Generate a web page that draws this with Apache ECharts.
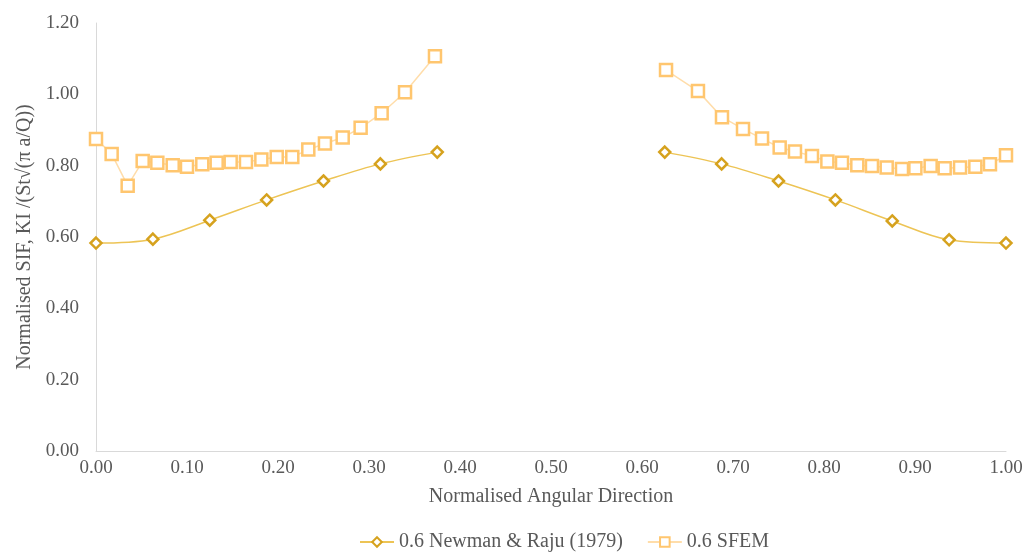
<!DOCTYPE html>
<html>
<head>
<meta charset="utf-8">
<script src="https://cdn.jsdelivr.net/npm/echarts@6/dist/echarts.min.js"></script>
<style>html,body{margin:0;padding:0;background:#fff;}#c{width:1026px;height:553px;}</style>
</head>
<body>
<div id="c"></div>
<script>
// Newman & Raju (1979), 0.6
const nrX1 = [0, 0.0625, 0.125, 0.1875, 0.25, 0.3125, 0.375];
const nrY1 = [0.583, 0.594, 0.647, 0.704, 0.757, 0.805, 0.838];
const nrX2 = [0.625, 0.6875, 0.75, 0.8125, 0.875, 0.9375, 1.0];
const nrY2 = [0.838, 0.805, 0.757, 0.704, 0.645, 0.592, 0.583];
// SFEM, 0.6
const sfX1 = [0, 0.0172, 0.0348, 0.0513, 0.0674, 0.0843, 0.1, 0.1168, 0.1326, 0.148, 0.1648, 0.1817, 0.1986, 0.2157, 0.2333, 0.2516, 0.2711, 0.2908, 0.3139, 0.3396, 0.3725];
const sfY1 = [0.875, 0.833, 0.744, 0.813, 0.808, 0.801, 0.797, 0.804, 0.808, 0.810, 0.810, 0.817, 0.824, 0.824, 0.845, 0.862, 0.879, 0.906, 0.947, 1.006, 1.107];
const sfX2 = [0.6264, 0.6615, 0.6879, 0.711, 0.7319, 0.7513, 0.7681, 0.7868, 0.8037, 0.8198, 0.8366, 0.8527, 0.8689, 0.8857, 0.9004, 0.9172, 0.9326, 0.9495, 0.9663, 0.9824, 1.0];
const sfY2 = [1.068, 1.009, 0.936, 0.903, 0.876, 0.851, 0.840, 0.827, 0.812, 0.808, 0.801, 0.799, 0.795, 0.791, 0.793, 0.799, 0.793, 0.795, 0.797, 0.804, 0.829];

function pairs(xs, ys){ return xs.map((x,i)=>[x, ys[i]]); }
const nrData = pairs(nrX1, nrY1).concat([[0.5, null]], pairs(nrX2, nrY2));
const sfData = pairs(sfX1, sfY1).concat([[0.5, null]], pairs(sfX2, sfY2));

const FONT = '"Liberation Serif", "Times New Roman", serif';
const chart = echarts.init(document.getElementById('c'));
chart.setOption({
  animation: false,
  backgroundColor: '#fff',
  textStyle: { fontFamily: FONT },
  grid: { left: 96, right: 20, top: 23, bottom: 102, containLabel: false },
  legend: {
    top: 527, left: 354, itemGap: 24, itemWidth: 34, itemHeight: 12,
    textStyle: { fontFamily: FONT, fontSize: 20, color: '#595959' },
    data: ['0.6 Newman & Raju (1979)', '0.6 SFEM']
  },
  xAxis: {
    type: 'value', min: 0, max: 1, interval: 0.1,
    name: 'Normalised Angular Direction', nameLocation: 'middle', nameGap: 36,
    nameTextStyle: { fontFamily: FONT, fontSize: 20, color: '#595959' },
    axisLine: { show: true, lineStyle: { color: '#d9d9d9', width: 1 } },
    axisTick: { show: false },
    splitLine: { show: false },
    axisLabel: { fontFamily: FONT, fontSize: 19, color: '#595959', margin: 8, formatter: v => v.toFixed(2) }
  },
  yAxis: {
    type: 'value', min: 0, max: 1.2, interval: 0.2,
    name: 'Normalised SIF, KI /(St√(π a/Q))', nameLocation: 'middle', nameGap: 60,
    nameTextStyle: { fontFamily: FONT, fontSize: 20, color: '#595959' },
    axisLine: { show: true, lineStyle: { color: '#d9d9d9', width: 1 } },
    axisTick: { show: false },
    splitLine: { show: false },
    axisLabel: { fontFamily: FONT, fontSize: 19, color: '#595959', margin: 17, formatter: v => v.toFixed(2) }
  },
  series: [
    {
      name: '0.6 Newman & Raju (1979)', type: 'line', data: nrData, smooth: 0.35, connectNulls: false,
      symbol: 'diamond', symbolSize: 11, showAllSymbol: true,
      lineStyle: { color: '#EDC455', width: 1.5 },
      itemStyle: { color: '#fff', borderColor: '#D6A21E', borderWidth: 2.5 },
      z: 3
    },
    {
      name: '0.6 SFEM', type: 'line', data: sfData, smooth: false, connectNulls: false,
      symbol: 'rect', symbolSize: 12, showAllSymbol: true,
      lineStyle: { color: '#FFDDAA', width: 1.5 },
      itemStyle: { color: '#fff', borderColor: '#FFC66F', borderWidth: 2.5 },
      z: 2
    }
  ]
});
</script>
</body>
</html>
